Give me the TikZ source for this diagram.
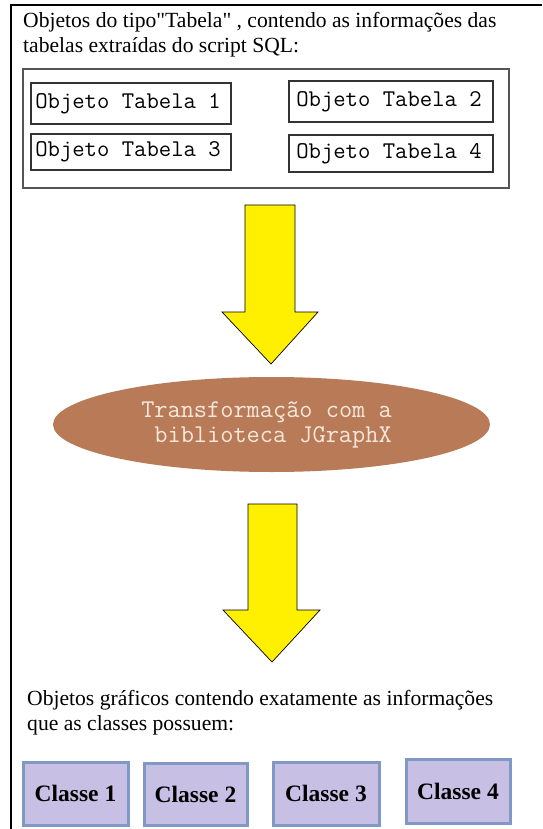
\documentclass[tikz,border=0pt]{standalone}
\usepackage{fontspec}
\setmainfont{Liberation Serif}[Ligatures=TeXOff]
\newfontfamily\codefont{Latin Modern Mono}
\usetikzlibrary{shapes.geometric}

\definecolor{arrowfill}{HTML}{FFF000}
\definecolor{ovalfill}{HTML}{B97A57}
\definecolor{ovaltext}{HTML}{F4E8DC}
\definecolor{classfill}{HTML}{C8C0E4}
\definecolor{classedge}{HTML}{7F99C4}
\definecolor{frameedge}{HTML}{555555}

\tikzset{
  caption/.style={anchor=base west, align=left, inner sep=0pt,
    font=\fontsize{21.6}{25}\selectfont},
  tabbox/.style={draw=black!80, line width=1.2pt, inner sep=0pt,
    font=\codefont\fontsize{24}{28}\selectfont},
  classbox/.style={draw=classedge, fill=classfill, line width=3pt,
    inner sep=0pt, minimum width=102pt, minimum height=60pt,
    font=\bfseries\fontsize{23.5}{26}\selectfont},
  bigarrow/.style={fill=arrowfill, draw=black, line width=0.7pt, line join=miter},
}

\begin{document}
\begin{tikzpicture}[x=1pt, y=-1pt]
\useasboundingbox (0,0) rectangle (542,829);

% page frame: left and top rules
\draw[line width=2.6pt] (10.8,3.7) -- (10.8,829);
\draw[line width=2.6pt] (9.5,5) -- (542,5);

% heading of the table objects (anchored on the baseline of its last line)
\node[caption] (head) at (23,53)
  {Objetos do tipo"Tabela" , contendo as informações das\\tabelas extraídas do script SQL:};

% container of the table objects
\node[draw=frameedge, line width=1.4pt, minimum width=486pt, minimum height=119pt,
  inner sep=0pt] (tables) at (266,128.5) {};

\node[tabbox, minimum width=200pt, minimum height=41pt] (t1) at (131,103.5) {Objeto Tabela 1\hspace*{6pt}};
\node[tabbox, minimum width=204pt, minimum height=41pt] (t2) at (391,101.5) {Objeto Tabela 2\hspace*{4pt}};
\node[tabbox, minimum width=200pt, minimum height=36pt] (t3) at (131,152) {Objeto Tabela 3\hspace*{6pt}};
\node[tabbox, minimum width=204pt, minimum height=37pt] (t4) at (391,153.5) {Objeto Tabela 4\hspace*{4pt}};

% first block arrow
\draw[bigarrow] (245,205) -- (295,205) -- (295,312) -- (318,312) -- (271,364)
  -- (222,312) -- (245,312) -- cycle;

% transformation step
\node[ellipse, fill=ovalfill, minimum width=437pt, minimum height=95pt, inner sep=0pt,
  text=ovaltext, align=left, font=\codefont\fontsize{25.6}{25}\selectfont]
  (transf) at (271.5,424.5)
  {\raisebox{-3pt}{Transformação com a}\hspace*{10pt}\\\raisebox{-3pt}{\hphantom{a}biblioteca JGraphX}};

% second block arrow
\draw[bigarrow] (248,504) -- (297,504) -- (297,610) -- (320,610) -- (272,662)
  -- (223,610) -- (248,610) -- cycle;

% heading of the graphic objects
\node[caption] (foot) at (27,730)
  {Objetos gráficos contendo exatamente as informações\\que as classes possuem:};

% class boxes
\node[classbox, minimum width=105pt, minimum height=63pt] (c1) at (75.5,793.5) {Classe 1};
\node[classbox, minimum width=103pt, minimum height=62pt] (c2) at (195.5,794) {Classe 2};
\node[classbox, minimum width=106pt, minimum height=63pt] (c3) at (326,793.5) {Classe 3};
\node[classbox, minimum width=104pt, minimum height=64pt] (c4) at (458,791) {Classe 4};
\end{tikzpicture}
\end{document}
